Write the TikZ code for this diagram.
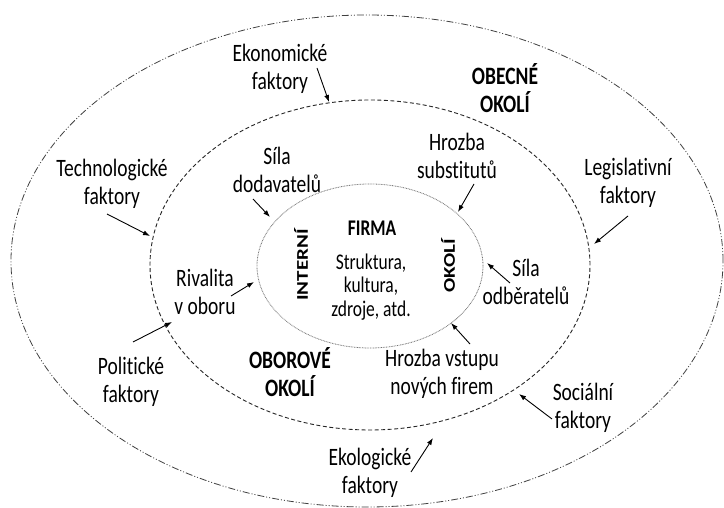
\documentclass[tikz,border=0pt]{standalone}
\usepackage{fontspec}
\setmainfont{Carlito}[FakeStretch=0.78, Ligatures=NoCommon]
\newfontfamily\plaincarlito{Carlito}[Ligatures=NoCommon]
\usetikzlibrary{arrows.meta,shapes.geometric}

\begin{document}
\begin{tikzpicture}[x=1pt,y=-1pt,
  lbl/.style={align=center, inner sep=0pt, font=\fontsize{25}{28}\selectfont},
  heading/.style={lbl, font=\bfseries\fontsize{25}{28}\selectfont},
  core/.style={align=center, inner sep=0pt, font=\fontsize{22.4}{23.5}\selectfont},
  sidelabel/.style={inner sep=0pt, rotate=90, transform shape, font=\plaincarlito\bfseries\fontsize{21}{24}\selectfont},
  ring/.style={ellipse, inner sep=0pt},
  ptr/.style={draw=black, line width=0.9pt, -{Latex[length=7pt,width=5pt]}}
]
\fill[white] (0,0) rectangle (724,508);
\useasboundingbox (0,0) rectangle (724,508);

% three nested environments
\node[ring, draw=black!75, line width=0.8pt,
      dash pattern=on 7pt off 2pt on 1pt off 2pt on 1pt off 2pt,
      minimum width=712pt, minimum height=492pt] (general) at (367,261) {};
\node[ring, draw=black!85, line width=0.9pt, dash pattern=on 4pt off 2.5pt,
      minimum width=440pt, minimum height=330pt] (industry) at (370,265) {};
\node[ring, draw=black!55, line width=0.8pt, dash pattern=on 0.8pt off 0.8pt,
      minimum width=226pt, minimum height=164pt] (firm) at (370,266) {};

% firm core
\node[core, font=\bfseries\fontsize{22.4}{23.5}\selectfont] (firma) at (372,228) {FIRMA};
\node[core] (resources) at (371,287) {Struktura,\\kultura,\\zdroje, atd.};
\begin{scope}[shift={(301,265)}, xscale=0.78]
  \node[sidelabel] (intern) at (0,0) {INTERNÍ};
\end{scope}
\begin{scope}[shift={(448,266)}, xscale=0.78]
  \node[sidelabel] (okoli) at (0,0) {OKOLÍ};
\end{scope}

% headings of the rings
\node[heading] (obecne) at (505,88) {OBECNÉ\\OKOLÍ};
\node[heading] (oborove) at (290,372) {OBOROVÉ\\OKOLÍ};

% industry forces
\node[lbl] (dodav) at (277,170) {Síla\\dodavatelů};
\node[lbl] (subst) at (457,156) {Hrozba\\substitutů};
\node[lbl] (rival) at (205,292) {Rivalita\\v oboru};
\node[lbl] (odber) at (526,282) {Síla\\odběratelů};
\node[lbl] (vstup) at (442,374) {Hrozba vstupu\\nových firem};

% general factors
\node[lbl] (ekon) at (280,69) {Ekonomické\\faktory};
\node[lbl] (tech) at (112,184) {Technologické\\faktory};
\node[lbl] (legis) at (628,183) {Legislativní\\faktory};
\node[lbl] (polit) at (131,382) {Politické\\faktory};
\node[lbl] (soc) at (583,408) {Sociální\\faktory};
\node[lbl] (ekol) at (370,473) {Ekologické\\faktory};

% arrow end points
\coordinate (ekonA) at (317,68);   \coordinate (ekonB) at (329,102);
\coordinate (techA) at (107,214);  \coordinate (techB) at (150,236);
\coordinate (legisA) at (628,216); \coordinate (legisB) at (594,244);
\coordinate (politA) at (133,342); \coordinate (politB) at (172,322);
\coordinate (socA) at (552,419);   \coordinate (socB) at (519,394);
\coordinate (ekolA) at (411,472);  \coordinate (ekolB) at (433,438);
\coordinate (dodavA) at (253,199); \coordinate (dodavB) at (270,217);
\coordinate (substA) at (474,184); \coordinate (substB) at (458,212);
\coordinate (rivalA) at (231,296); \coordinate (rivalB) at (254,282);
\coordinate (odberA) at (510,283); \coordinate (odberB) at (487,263);
\coordinate (vstupA) at (470,344); \coordinate (vstupB) at (451,323);

\draw[ptr] (ekonA) -- (ekonB);
\draw[ptr] (techA) -- (techB);
\draw[ptr] (legisA) -- (legisB);
\draw[ptr] (politA) -- (politB);
\draw[ptr] (socA) -- (socB);
\draw[ptr] (ekolA) -- (ekolB);
\draw[ptr] (dodavA) -- (dodavB);
\draw[ptr] (substA) -- (substB);
\draw[ptr] (rivalA) -- (rivalB);
\draw[ptr] (odberA) -- (odberB);
\draw[ptr] (vstupA) -- (vstupB);
\end{tikzpicture}
\end{document}
